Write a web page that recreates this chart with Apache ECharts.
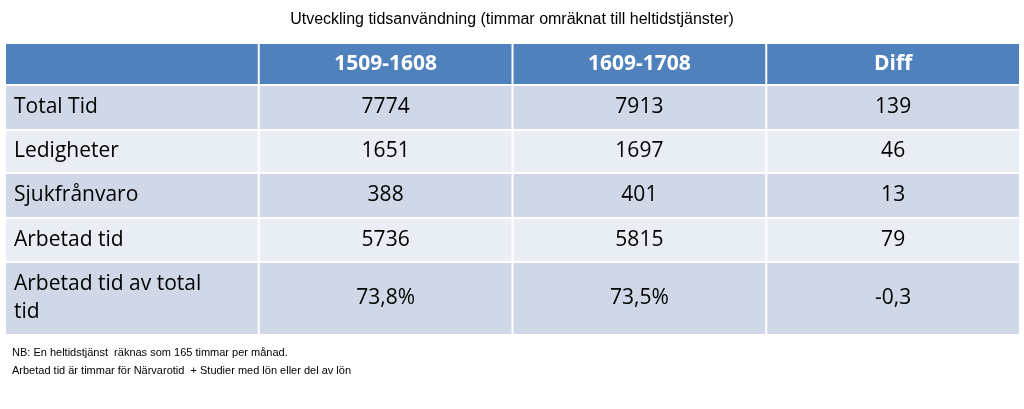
<!DOCTYPE html>
<html><head><meta charset="utf-8">
<script src="https://cdn.jsdelivr.net/npm/echarts@6/dist/echarts.min.js"></script>
<style>html,body{margin:0;padding:0;background:#fff}#c{width:1024px;height:409px}</style>
</head><body><div id="c"></div>
<script>
// Table content
const columns = ['', '1509-1608', '1609-1708', 'Diff'];
const rowLabels = ['Total Tid', 'Ledigheter', 'Sjukfrånvaro', 'Arbetad tid', 'Arbetad tid av total\ntid'];
const period1 = ['7774', '1651', '388', '5736', '73,8%'];
const period2 = ['7913', '1697', '401', '5815', '73,5%'];
const diff = ['139', '46', '13', '79', '-0,3'];

// row boundaries (header + 5 rows), in table units
const rowEdges = [0, 42, 87, 130, 175, 219, 292];

const cells = [];
columns.forEach((c, i) => cells.push([i, 0, c]));
rowLabels.forEach((r, j) => {
  cells.push([0, j + 1, r]);
  cells.push([1, j + 1, period1[j]]);
  cells.push([2, j + 1, period2[j]]);
  cells.push([3, j + 1, diff[j]]);
});

const chart = echarts.init(document.getElementById('c'));
chart.setOption({
  animation: false,
  title: {
    text: 'Utveckling tidsanvändning (timmar omräknat till heltidstjänster)',
    left: 'center', top: 7,
    textStyle: {fontFamily: 'Liberation Sans', fontSize: 16, fontWeight: 'normal', color: '#000'}
  },
  graphic: [
    {type: 'text', left: 12, top: 347, style: {text: 'NB: En heltidstjänst  räknas som 165 timmar per månad.', font: '11px Liberation Sans', fill: '#000'}},
    {type: 'text', left: 12, top: 365, style: {text: 'Arbetad tid är timmar för Närvarotid  + Studier med lön eller del av lön', font: '11px Liberation Sans', fill: '#000'}}
  ],
  grid: {left: 5, right: 4, top: 43, bottom: 74},
  xAxis: {type: 'category', data: columns, show: false},
  yAxis: {type: 'value', min: 0, max: 292, inverse: true, show: false},
  series: [{
    type: 'custom',
    data: cells,
    renderItem: function (params, api) {
      const col = api.value(0), row = api.value(1);
      const text = cells[params.dataIndex][2];
      const bw = api.size([1, 0])[0];
      const cx = api.coord([col, 0])[0];
      const y0 = api.coord([0, rowEdges[row]])[1];
      const y1 = api.coord([0, rowEdges[row + 1]])[1];
      const x0 = cx - bw / 2;
      const fill = row === 0 ? '#4f81bd' : (row % 2 === 1 ? '#d0d8e8' : '#e9edf4');
      const isHead = row === 0;
      return {
        type: 'group',
        children: [
          {type: 'rect', shape: {x: x0 + 1, y: y0 + 1, width: bw - 2, height: y1 - y0 - 2}, style: {fill: fill}},
          {type: 'text', style: {
            text: text,
            x: col === 0 ? x0 + 9 : cx,
            y: (y0 + y1) / 2,
            align: col === 0 ? 'left' : 'center',
            verticalAlign: 'middle',
            lineHeight: 28,
            font: (isHead ? 'bold ' : '') + '21px Open Sans',
            fill: isHead ? '#fff' : '#000'
          }}
        ]
      };
    }
  }]
});
</script></body></html>
